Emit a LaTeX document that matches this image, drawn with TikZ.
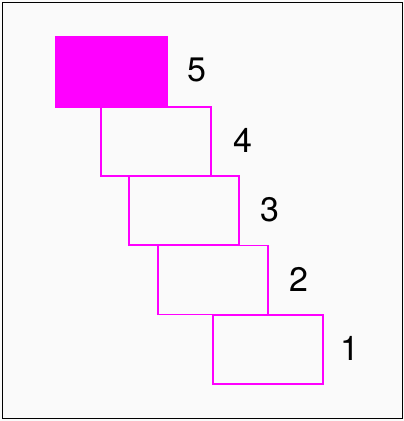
\documentclass[tikz,border=0pt]{standalone}
\usepackage{fontspec}
\setmainfont{TeX Gyre Heros}
\definecolor{mag}{HTML}{FF00FF}
\definecolor{bg}{HTML}{FAFAFA}
\begin{document}
\begin{tikzpicture}[x=1pt,y=-1pt,
  stair/.style={draw=mag,line width=1.2pt,minimum width=110pt,minimum height=69pt,inner sep=0pt},
  num/.style={inner sep=0pt,font=\fontsize{34}{34}\selectfont}]
\useasboundingbox (0,0) rectangle (404,421);
\fill[bg] (0,0) rectangle (404,421);
\draw[black,line width=1pt] (2,2.5) rectangle (402.5,418.5);
\node[stair,fill=mag,minimum width=111pt,minimum height=70pt] (b5) at (111.5,72) {};
\node[stair] (b4) at (156,141.5) {};
\node[stair] (b3) at (184,210.5) {};
\node[stair] (b2) at (213,280) {};
\node[stair] (b1) at (268,349.5) {};
\node[num] (l5) at (197,70) {5};
\node[num] (l4) at (243,140) {4};
\node[num] (l3) at (270,210) {3};
\node[num] (l2) at (299,279) {2};
\node[num] (l1) at (350,348) {1};
\end{tikzpicture}
\end{document}
